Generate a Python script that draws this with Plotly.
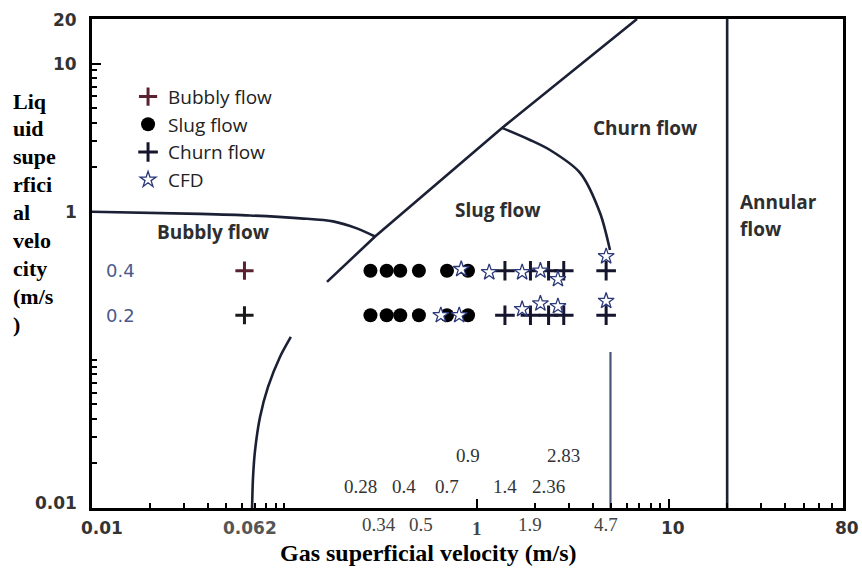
import math
import plotly.graph_objects as go

# ---- flow-regime boundaries (gas velocity, liquid velocity) in m/s ----
bubbly_top_x = [0.01, 0.0364, 0.0663, 0.121, 0.179, 0.238, 0.296]
bubbly_top_y = [1.0, 0.967, 0.944, 0.902, 0.861, 0.772, 0.68]
diag_x = [0.1665, 0.296, 1.352, 6.8]
diag_y = [0.336, 0.68, 3.68, 20.0]
slug_churn_x = [1.352, 1.89, 2.40, 3.44, 4.37, 4.92]
slug_churn_y = [3.68, 3.05, 2.61, 1.83, 0.98, 0.552]
bubbly_low_x = [0.108, 0.0948, 0.0822, 0.0747, 0.0704, 0.0687, 0.0679]
bubbly_low_y = [0.1428, 0.1046, 0.0657, 0.0412, 0.0246, 0.0162, 0.01]
churn_edge_x = [4.95, 4.95]
churn_edge_y = [0.113, 0.01]
annular_x = [20.0, 20.0]
annular_y = [0.01, 20.0]

# ---- experimental / CFD points ----
liquid_rows = [0.4, 0.2]
bubbly_vg = [0.062]
slug_vg = [0.28, 0.34, 0.4, 0.5, 0.7, 0.9]
churn_vg = [1.4, 1.9, 2.36, 2.83, 4.7]
cfd_vg = [0.83, 1.16, 1.72, 2.14, 2.64, 4.7, 0.65, 0.81, 1.72, 2.14, 2.64, 4.7]
cfd_vl = [0.41, 0.39, 0.39, 0.40, 0.35, 0.50, 0.20, 0.20, 0.22, 0.24, 0.23, 0.25]

# ---- axis labelling ----
x_ticks_sans = [(0.01, "0.01"), (0.062, "0.062"), (10, "10"), (80, "80")]
x_ticks_serif = [(0.34, "0.34"), (0.5, "0.5"), (1, "1"), (1.9, "1.9"), (4.7, "4.7")]
y_ticks = [(20, "20"), (10, "10"), (1, "1"), (0.01, "0.01")]
vg_labels_low = [0.28, 0.4, 0.7, 1.4, 2.36]
vg_labels_high = [0.9, 2.83]
y_title_lines = ["Liq", "uid", "supe", "rfici", "al", "velo", "city", "(m/s", ")"]

x_minor = [0.02, 0.03, 0.04, 0.05, 0.06, 0.07, 0.08, 0.09, 0.1,
           2, 3, 4, 5, 6, 7, 8, 9, 20, 30, 40, 50, 60, 70]
y_minor = [0.02, 0.03, 0.04, 0.05, 0.06, 0.07, 0.08, 0.09, 0.1,
           2, 3, 4, 5, 6, 7, 8, 9]

LINE = "#1b2035"
fig = go.Figure()


def boundary(xs, ys, color=LINE, width=2.6, spline=True):
    fig.add_trace(go.Scatter(
        x=xs, y=ys, mode="lines", showlegend=False, hoverinfo="skip",
        line=dict(color=color, width=width, shape="spline" if spline else "linear",
                  smoothing=0.8)))


boundary(bubbly_top_x, bubbly_top_y)
boundary(diag_x, diag_y, spline=False)
boundary(slug_churn_x, slug_churn_y)
boundary(bubbly_low_x, bubbly_low_y)
boundary(churn_edge_x, churn_edge_y, color="#4a5675", width=2.2, spline=False)
boundary(annular_x, annular_y, spline=False)

# Bubbly flow
bx = [v for _ in liquid_rows for v in bubbly_vg]
by = [r for r in liquid_rows for _ in bubbly_vg]
fig.add_trace(go.Scatter(
    x=bx, y=by, mode="markers", name="Bubbly flow",
    marker=dict(symbol="cross-thin", size=13,
                line=dict(color=["#5a2231", "#1a1a1a"], width=3))))

# Slug flow
sx = [v for _ in liquid_rows for v in slug_vg]
sy = [r for r in liquid_rows for _ in slug_vg]
fig.add_trace(go.Scatter(
    x=sx, y=sy, mode="markers", name="Slug flow",
    marker=dict(symbol="circle", size=14, color="#000000")))

# Churn flow
cx = [v for _ in liquid_rows for v in churn_vg]
cy = [r for r in liquid_rows for _ in churn_vg]
fig.add_trace(go.Scatter(
    x=cx, y=cy, mode="markers", name="Churn flow",
    marker=dict(symbol="cross-thin", size=14,
                line=dict(color="#15152e", width=3))))

# CFD predictions
fig.add_trace(go.Scatter(
    x=cfd_vg, y=cfd_vl, mode="markers", name="CFD",
    marker=dict(symbol="star", size=12, color="white",
                line=dict(color="#2c3978", width=1.3))))

ann = []

# region names
region_font = dict(family="Open Sans", size=19, color="#2e2e2e")
for text, px, py, anchor in [("Bubbly flow", 213, 232, "center"),
                             ("Slug flow", 498, 210, "center"),
                             ("Churn flow", 645, 128, "center"),
                             ("Annular", 738, 202, "left"),
                             ("flow", 738, 229, "left")]:
    ann.append(dict(text="<b>%s</b>" % text, xref="paper", yref="paper",
                    x=(px - 92) / 751, y=(508 - py) / 489, xanchor=anchor,
                    yanchor="middle", showarrow=False, font=region_font))

# liquid velocity levels
for r in liquid_rows:
    ann.append(dict(text=str(r), xref="paper", yref="y", x=(120 - 92) / 751,
                    y=math.log10(r), xanchor="center", yanchor="middle",
                    showarrow=False,
                    font=dict(family="DejaVu Sans", size=18, color="#4d5a8c")))

# gas velocity values written inside the frame
serif = dict(family="Liberation Serif", size=19, color="#333333")
low_shift = {0.28: -10, 0.4: 4}
for v in vg_labels_low:
    ann.append(dict(text=str(v), xref="x", yref="paper", x=math.log10(v),
                    xshift=low_shift.get(v, 0),
                    y=(508 - 486) / 489, xanchor="center", yanchor="middle",
                    showarrow=False, font=serif))
for v in vg_labels_high:
    ann.append(dict(text=str(v), xref="x", yref="paper", x=math.log10(v),
                    y=(508 - 455) / 489, xanchor="center", yanchor="middle",
                    showarrow=False, font=serif))

# x tick labels
sans_bold = dict(family="DejaVu Sans", size=17, color="#333333")
for v, t in x_ticks_sans:
    shift = 10 if v == 0.01 else (4 if v in (10, 80) else 6)
    ann.append(dict(text="<b>%s</b>" % t, xref="x", yref="paper",
                    x=math.log10(v), y=0, yshift=-20, xshift=shift,
                    xanchor="center", yanchor="middle", showarrow=False,
                    font=sans_bold if t != "0.062" else dict(sans_bold, color="#555555")))
serif_shift = {0.34: -8, 0.5: 2}
for v, t in x_ticks_serif:
    txt = "<b>%s</b>" % t if t == "1" else t
    ann.append(dict(text=txt, xref="x", yref="paper", x=math.log10(v), y=0,
                    xshift=serif_shift.get(v, 0),
                    yshift=-16 if t != "1" else -20, xanchor="center",
                    yanchor="middle", showarrow=False,
                    font=dict(family="Liberation Serif", size=19, color="#444444")))

# y tick labels
for v, t in y_ticks:
    ann.append(dict(text="<b>%s</b>" % t, xref="paper", yref="y", x=0,
                    xshift=-13, y=math.log10(v), yshift=5 if v == 0.01 else (-1 if v == 20 else 0),
                    xanchor="right", yanchor="middle", showarrow=False,
                    font=sans_bold))

# axis titles
ann.append(dict(text="<b>Gas superficial velocity (m/s)</b>", xref="paper",
                yref="paper", x=(428 - 92) / 751, y=0, yshift=-45,
                xanchor="center", yanchor="middle", showarrow=False,
                font=dict(family="Liberation Serif", size=24, color="#000000")))
for i, line in enumerate(y_title_lines):
    py = 101 + i * 27.9
    ann.append(dict(text="<b>%s</b>" % line, xref="paper", yref="paper",
                    x=(11 - 92) / 751, y=(508 - py) / 489, xanchor="left",
                    yanchor="middle", showarrow=False,
                    font=dict(family="Liberation Serif", size=22, color="#000000")))

axis_common = dict(type="log", showgrid=False, zeroline=False, showline=True,
                   linecolor="#000000", linewidth=2.6, mirror=True,
                   ticks="inside", ticklen=9, tickwidth=2, tickcolor="#000000",
                   showticklabels=False)

fig.update_layout(
    width=862, height=570,
    margin=dict(l=92, r=19, t=19, b=62),
    paper_bgcolor="white", plot_bgcolor="white",
    xaxis=dict(axis_common, range=[-2, math.log10(80)], tickvals=[1, 10],
               minor=dict(tickvals=x_minor, ticks="inside", ticklen=5,
                          tickwidth=2, tickcolor="#000000")),
    yaxis=dict(axis_common, range=[-2, math.log10(20)], tickvals=[10],
               minor=dict(tickvals=y_minor, ticks="inside", ticklen=5,
                          tickwidth=2, tickcolor="#000000")),
    legend=dict(x=0.048, y=0.88, xanchor="left", yanchor="top",
                bgcolor="rgba(0,0,0,0)", borderwidth=0,
                font=dict(family="Open Sans", size=19, color="#222222"),
                itemsizing="trace"),
    annotations=ann,
    showlegend=True,
)

fig.write_html("out.html")
